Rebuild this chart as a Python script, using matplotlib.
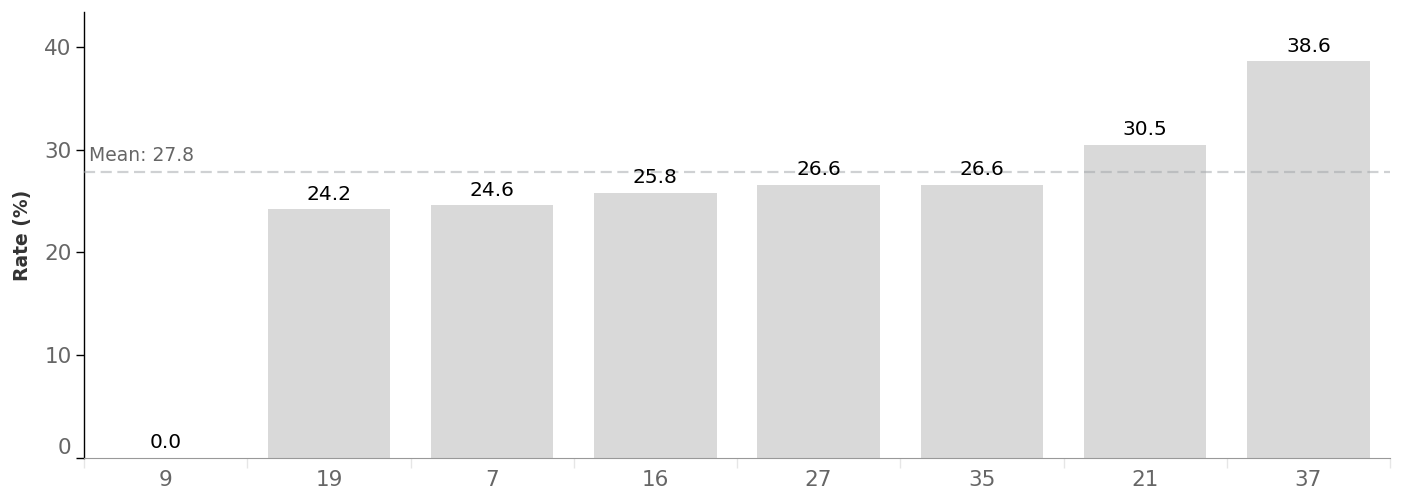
import matplotlib
matplotlib.use('Agg')
import matplotlib.pyplot as plt
import numpy as np

categories = ['9', '19', '7', '16', '27', '35', '21', '37']
rates = [0.0, 24.2, 24.6, 25.8, 26.6, 26.6, 30.5, 38.6]
mean_rate = 27.8

plt.rcParams['font.family'] = ['DejaVu Sans']

fig = plt.figure(figsize=(14.03, 4.93), dpi=100)
ax = fig.add_axes([84 / 1403, 1 - 458 / 493, (1390 - 84) / 1403, (458 - 12) / 493])

x = np.arange(len(categories))
ax.bar(x, rates, width=0.75, color='#d9d9d9', zorder=2)

for xi, v in zip(x, rates):
    ax.annotate(f'{v:.1f}', (xi, v), xytext=(0, 4), textcoords='offset points',
                ha='center', va='bottom', fontsize=14.5, color='black', zorder=4)

ax.axhline(mean_rate, color='#a0a4a8', alpha=0.5, lw=1.6,
           linestyle=(0, (5, 2.5)), zorder=3)
ax.text(-0.47, mean_rate + 0.7, f'Mean: {mean_rate}', ha='left', va='bottom',
        fontsize=13.5, color='#666666')

ax.set_xlim(-0.5, len(categories) - 0.5)
ax.set_ylim(0, 43.4)

ax.set_xticks(x)
ax.set_xticklabels(categories)
ax.set_xticks(np.arange(len(categories) + 1) - 0.5, minor=True)
ax.tick_params(axis='x', which='major', length=0, pad=9, labelsize=15.5, labelcolor='#666666')
ax.tick_params(axis='x', which='minor', length=7, color='#e6e6e6', width=1)

ax.set_yticks([0, 10, 20, 30, 40])
ax.tick_params(axis='y', length=6, width=1, color='black', pad=3, labelsize=15.5,
               labelcolor='#666666')
ax.get_yticklabels()[0].set_verticalalignment('bottom')

ax.set_ylabel('Rate (%)', fontsize=13.5, fontweight='bold', color='#333333', labelpad=9)

for s in ['top', 'right']:
    ax.spines[s].set_visible(False)
ax.spines['left'].set_color('black')
ax.spines['left'].set_linewidth(1)
ax.spines['bottom'].set_color('#999999')
ax.spines['bottom'].set_linewidth(0.8)

fig.savefig('out.png', dpi=100)
